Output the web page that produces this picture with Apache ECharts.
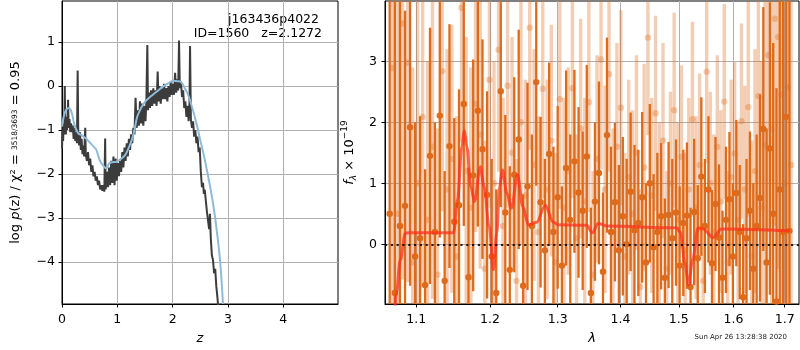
<!DOCTYPE html>
<html>
<head>
<meta charset="utf-8">
<script src="https://cdn.jsdelivr.net/npm/echarts@6/dist/echarts.min.js"></script>
<style>
  html, body { margin: 0; padding: 0; background: #fff; }
  #main { width: 800px; height: 350px; }
</style>
</head>
<body>
<div id="main"></div>
<script>
// p(z) panel: noisy log p(z) and smooth chi2 curve, [z, value]
const pzCurve = [
  [0.000, -1.42], [0.010, -1.00], [0.020, -1.25], [0.030, -0.85], [0.040, -1.10], [0.050, 0.00],
  [0.060, -0.95], [0.070, -1.10], [0.080, -0.70], [0.090, -1.00], [0.100, -0.80], [0.110, -0.31],
  [0.120, -0.95], [0.135, -0.75], [0.150, -1.05], [0.165, -0.85], [0.180, -1.05], [0.195, -0.90],
  [0.210, -1.20], [0.225, -0.95], [0.240, -1.25], [0.255, -1.05], [0.270, -1.30], [0.283, 0.35],
  [0.295, -1.15], [0.310, -1.35], [0.325, -1.05], [0.340, -1.45], [0.355, -1.20], [0.370, -1.55],
  [0.385, -1.35], [0.400, -1.60], [0.420, -0.95], [0.430, -1.55], [0.450, -1.70], [0.470, -1.50],
  [0.490, -1.80], [0.510, -1.65], [0.530, -1.95], [0.550, -1.80], [0.570, -2.05], [0.590, -1.95],
  [0.610, -2.15], [0.630, -2.05], [0.650, -2.25], [0.670, -2.15], [0.690, -2.35], [0.710, -2.25],
  [0.730, -2.38], [0.750, -2.25], [0.765, -2.40], [0.780, -1.19], [0.790, -2.35], [0.810, -1.95],
  [0.830, -2.30], [0.850, -1.85], [0.870, -2.25], [0.890, -1.70], [0.910, -2.20], [0.930, -1.60],
  [0.950, -2.25], [0.970, -1.65], [0.990, -2.15], [1.010, -1.75], [1.030, -2.05], [1.050, -1.70],
  [1.070, -1.95], [1.090, -1.50], [1.110, -1.85], [1.130, -1.40], [1.150, -1.70], [1.170, -1.30],
  [1.190, -1.60], [1.210, -1.20], [1.230, -1.45], [1.250, -1.10], [1.270, -1.30], [1.290, -0.95],
  [1.310, -1.10], [1.330, -0.27], [1.350, -0.95], [1.370, -0.55], [1.390, -0.90], [1.410, -0.35],
  [1.430, -0.85], [1.450, -0.40], [1.470, -0.90], [1.490, -0.45], [1.510, -0.80], [1.525, -0.35],
  [1.543, 0.93], [1.555, -0.55], [1.570, -0.15], [1.590, -0.50], [1.610, -0.10], [1.630, -0.45],
  [1.650, -0.05], [1.670, -0.40], [1.690, -0.10], [1.710, -0.45], [1.730, 0.33], [1.745, -0.35],
  [1.765, 0.00], [1.785, -0.40], [1.805, -0.05], [1.825, -0.30], [1.845, 0.05], [1.865, -0.30],
  [1.885, -0.05], [1.905, -0.35], [1.925, 0.00], [1.945, -0.25], [1.965, 0.10], [1.985, -0.20],
  [2.005, 0.05], [2.025, -0.20], [2.045, 0.30], [2.065, -0.15], [2.085, 0.15], [2.100, -0.10],
  [2.116, 1.03], [2.130, -0.05], [2.150, 0.10], [2.170, -0.25], [2.190, -0.10], [2.210, -0.50],
  [2.230, -0.35], [2.250, -0.70], [2.270, -0.45], [2.290, -0.80], [2.305, -0.40], [2.315, 0.91],
  [2.330, -0.75], [2.350, -0.95], [2.370, -0.80], [2.390, -1.15], [2.410, -1.00], [2.430, -1.30],
  [2.450, -1.15], [2.470, -1.50], [2.490, -1.40], [2.510, -1.95], [2.530, -2.30], [2.550, -2.20],
  [2.565, -2.45], [2.580, -2.35], [2.600, -2.60], [2.620, -2.85], [2.640, -3.05], [2.660, -3.25],
  [2.675, -2.90], [2.690, -3.45], [2.710, -3.85], [2.730, -3.95], [2.750, -4.25], [2.770, -4.15],
  [2.790, -4.55], [2.810, -4.80], [2.830, -5.10]
];
const pzSmooth = [
  [0.00, -0.92], [0.03, -0.70], [0.07, -0.55], [0.12, -0.50], [0.17, -0.58], [0.22, -0.85],
  [0.29, -1.07], [0.36, -1.12], [0.44, -1.20], [0.50, -1.28], [0.56, -1.36], [0.62, -1.45],
  [0.68, -1.68], [0.74, -1.80], [0.80, -1.87], [0.85, -1.76], [0.90, -1.73], [0.98, -1.72],
  [1.06, -1.66], [1.14, -1.57], [1.20, -1.42], [1.26, -1.23], [1.31, -1.00], [1.36, -0.70],
  [1.43, -0.50], [1.50, -0.36], [1.60, -0.24], [1.71, -0.13], [1.82, -0.02], [1.92, 0.06],
  [2.01, 0.12], [2.09, 0.11], [2.16, 0.08], [2.22, -0.05], [2.28, -0.20], [2.34, -0.43],
  [2.40, -0.70], [2.45, -0.95], [2.50, -1.23], [2.56, -1.55], [2.62, -1.91], [2.68, -2.30],
  [2.74, -2.74], [2.80, -3.30], [2.86, -4.00], [2.91, -4.95]
];
const zTicks = [0, 1, 2, 3, 4];
const pzTicks = [-4, -3, -2, -1, 0, 1];

// spectrum panel (wavelength in micron, flux in 1e-19)
const lamTicks = [1.1, 1.2, 1.3, 1.4, 1.5, 1.6, 1.7];
const fluxTicks = [0, 1, 2, 3];
const darkStart = 1.066, darkStep = 0.0065;
const darkFlux = [
  0.5, -0.8, 0.3, 0.63, 1.92, -0.2, 0.1, -0.67, 1.45, 0.2,
  2.11, -0.6, 1.61, 0.37, 0.64, 2.30, -0.54, 1.13, 2.19, 1.56,
  0.81, -0.2, -0.80, 2.51, 0.52, -0.42, 1.14, 1.72, -0.68, 0.95,
  0.3, 2.66, 0.69, -0.1, 1.48, 0.2, 0.77, -0.35, 1.25, 0.4,
  1.36, 0.85, 0.55, 1.44, -0.80, 0.70, 1.17, -0.45, 1.79, 0.2,
  0.69, -0.1, 0.46, 0.0, 0.86, 0.23, 0.35, 0.77, -0.3, 1.0,
  -0.05, 0.2, 0.46, -0.55, 0.48, 0.1, 0.52, -0.35, 0.35, 0.47,
  -0.70, 0.53, -0.23, 1.11, 0.3, 0.9, -0.31, 0.66, 0.11, -0.55,
  0.4, 0.74, -0.2, 0.84, 0.2, -0.87, 0.1, 0.55, -0.4, 0.3,
  0.76, 1.89, -0.3, 1.57, 0.5, -0.94, 0.9, 0.2, 2.09, 0.22
];
const darkErr = [
  6.0, 5.0, 4.2, 3.2, 2.6, 2.2, 2.0, 1.9, 2.1, 1.8,
  2.0, 1.8, 2.0, 1.7, 1.9, 2.0, 1.8, 1.9, 1.9, 1.8,
  1.7, 1.6, 1.7, 1.9, 1.6, 1.7, 1.6, 1.8, 1.5, 1.7,
  1.5, 1.7, 1.4, 1.5, 1.5, 1.4, 1.5, 1.3, 1.6, 1.4,
  1.5, 1.4, 1.3, 1.5, 1.4, 1.3, 1.5, 1.3, 1.6, 1.4,
  1.3, 1.4, 1.3, 1.4, 1.3, 1.4, 1.2, 1.4, 1.3, 1.3,
  1.2, 1.3, 1.2, 1.3, 1.2, 1.3, 1.2, 1.3, 1.2, 1.2,
  1.3, 1.2, 1.2, 1.3, 1.1, 1.2, 1.2, 1.1, 1.2, 1.1,
  1.2, 1.1, 1.2, 1.2, 1.1, 1.2, 1.3, 1.3, 1.4, 1.5,
  1.7, 2.0, 2.2, 2.4, 2.8, 3.5, 4.5, 5.5, 6.0, 6.5
];
const lightStart = 1.0693, lightStep = 0.0065;
const lightFlux = [
  2.89, 0.5, 3.62, 2.98, -0.3, 1.0, 2.09, 0.4, 1.6, -0.5,
  2.84, 0.9, 1.4, -0.2, 3.88, 1.2, 0.6, 2.3, 1.8, -0.4,
  2.7, 1.0, 3.19, 0.3, 2.6, 1.5, -0.6, 2.0, 0.8, 3.55,
  1.3, 0.2, 2.55, 0.9, 1.7, -0.3, 2.38, 0.6, 1.2, 2.56,
  0.1, 1.9, 0.7, 2.33, -0.5, 1.4, 3.03, 0.9, 2.79, 0.2,
  1.6, 2.24, -0.2, 1.1, 0.5, 1.5, -0.7, 1.26, 3.39, 0.8,
  2.15, 0.3, 1.7, -0.4, 1.0, 2.2, 0.4, 1.43, -0.1, 0.9,
  2.05, 0.6, 1.3, -0.6, 2.83, 1.0, 0.2, 1.6, 0.7, 2.34,
  -0.3, 1.1, 1.49, 0.4, 2.02, 0.9, 2.25, -0.2, 1.2, 2.43,
  0.6, 1.62, 3.1, 1.88, 3.7, 3.4, 2.45, 1.0, 2.57, 1.3
];
const lightErr = [
  6.0, 5.0, 4.2, 3.6, 3.2, 3.0, 2.8, 2.6, 2.5, 2.4,
  2.3, 2.3, 2.2, 2.3, 2.2, 2.2, 2.3, 2.1, 2.2, 2.1,
  2.1, 2.0, 2.0, 2.1, 2.0, 1.9, 2.0, 2.0, 1.9, 2.0,
  1.9, 1.9, 1.8, 1.8, 1.9, 1.8, 1.8, 1.8, 1.7, 1.8,
  1.7, 1.8, 1.7, 1.8, 1.7, 1.7, 1.8, 1.7, 1.6, 1.7,
  1.7, 1.6, 1.7, 1.6, 1.7, 1.6, 1.6, 1.7, 1.6, 1.6,
  1.6, 1.7, 1.6, 1.6, 1.5, 1.6, 1.6, 1.5, 1.6, 1.5,
  1.6, 1.5, 1.5, 1.6, 1.5, 1.5, 1.6, 1.5, 1.5, 1.6,
  1.5, 1.6, 1.5, 1.6, 1.6, 1.7, 1.8, 1.9, 2.0, 2.2,
  2.4, 2.6, 2.9, 3.1, 3.4, 3.8, 4.3, 5.0, 5.8, 6.5
];
// best-fit model, [lambda, flux]
const modelCurve = [
  [1.0728, -1.05], [1.0744, -0.80], [1.0794, -0.26], [1.0858, 0.18], [1.0900, 0.19], [1.1495, 0.19],
  [1.1549, 0.73], [1.1609, 1.60], [1.1641, 1.87], [1.1678, 1.60], [1.1733, 0.94], [1.1783, 0.70],
  [1.1863, 1.27], [1.1919, 0.94], [1.1989, 0.29], [1.2050, -0.42], [1.2099, 0.19], [1.2136, 0.94],
  [1.2179, 1.22], [1.2242, 0.84], [1.2309, 0.59], [1.2396, 1.14], [1.2475, 0.62], [1.2558, 0.32],
  [1.2683, 0.36], [1.2808, 0.64], [1.2934, 0.36], [1.3011, 0.32], [1.3454, 0.31], [1.3543, 0.19],
  [1.3639, 0.34], [1.3775, 0.30], [1.4961, 0.27], [1.5032, 0.19], [1.5108, -0.31], [1.5174, -0.67],
  [1.5246, -0.26], [1.5347, 0.27], [1.5438, 0.25], [1.5621, 0.11], [1.5776, 0.25], [1.7101, 0.22]
];

const LAM_MIN = 1.0601, LAM_MAX = 1.7289;
const F_MIN = -0.98, F_MAX = 3.99;
const FONT = 'DejaVu Sans';
const DARK = '#dd6b1b';
const LIGHT = 'rgba(221,107,27,0.33)';

const minus = v => (v < 0 ? '\u2212' + Math.abs(v) : '' + v);

function specData(start, step, flux, err) {
  return flux.map((f, i) => [Math.log(start + i * step), f, err[i]]);
}

function errBar(color, width) {
  return function (params, api) {
    const x = api.value(0), y = api.value(1), e = api.value(2);
    const lo = Math.max(y - e, F_MIN), hi = Math.min(y + e, F_MAX);
    const p0 = api.coord([x, lo]), p1 = api.coord([x, hi]);
    const kids = [{
      type: 'line',
      shape: { x1: p0[0], y1: p0[1], x2: p1[0], y2: p1[1] },
      style: { stroke: color, lineWidth: width }
    }];
    if (y > F_MIN && y < F_MAX) {
      const c = api.coord([x, y]);
      kids.push({ type: 'circle', shape: { cx: c[0], cy: c[1], r: 3.2 }, style: { fill: color } });
    }
    return { type: 'group', children: kids };
  };
}

const axisBase = {
  axisLine: { show: true, onZero: false, lineStyle: { color: '#000', width: 1 } },
  axisTick: { show: true, length: 3.5, lineStyle: { color: '#000', width: 1 } },
  axisLabel: { color: '#000', fontFamily: FONT, fontSize: 12.5 },
  splitLine: { show: true, lineStyle: { color: '#b0b0b0', width: 1 } }
};

function axis(extra, ticks, fmt, labelMargin) {
  return Object.assign({}, axisBase, extra, {
    axisTick: Object.assign({}, axisBase.axisTick, { customValues: ticks }),
    axisLabel: Object.assign({}, axisBase.axisLabel, { customValues: ticks, formatter: fmt, margin: labelMargin })
  });
}

const lamTickVals = lamTicks.map(Math.log);
const textFont = '12.5px "DejaVu Sans"';

const option = {
  animation: false,
  backgroundColor: '#fff',
  grid: [
    { left: 62, right: 462, top: 1, bottom: 46, show: true, borderColor: '#000', borderWidth: 1, backgroundColor: 'transparent', outerBoundsMode: 'none' },
    { left: 385, right: 1, top: 1, bottom: 46, show: true, borderColor: '#000', borderWidth: 1, backgroundColor: 'transparent', outerBoundsMode: 'none' }
  ],
  xAxis: [
    axis({
      type: 'value', gridIndex: 0, min: 0, max: 4.99,
      name: 'z', nameLocation: 'middle', nameGap: 28,
      nameTextStyle: { fontFamily: FONT, fontSize: 13, fontStyle: 'italic', color: '#000' }
    }, zTicks, minus, 9),
    axis({
      type: 'value', gridIndex: 1, min: Math.log(LAM_MIN), max: Math.log(LAM_MAX),
      name: 'λ', nameLocation: 'middle', nameGap: 28,
      nameTextStyle: { fontFamily: FONT, fontSize: 13, fontStyle: 'italic', color: '#000' }
    }, lamTickVals, v => Math.exp(v).toFixed(1), 9)
  ],
  yAxis: [
    axis({
      type: 'value', gridIndex: 0, min: -4.95, max: 1.93,
      name: 'log {i|p}(z) / χ² = {fr|3518/3693} = 0.95', nameLocation: 'middle', nameGap: 40,
      nameTextStyle: {
        fontFamily: FONT, fontSize: 13, color: '#000',
        rich: {
          i: { fontFamily: FONT, fontSize: 13, fontStyle: 'italic', color: '#000' },
          fr: { fontFamily: FONT, fontSize: 7.5, color: '#000' }
        }
      }
    }, pzTicks, minus, 7),
    axis({
      type: 'value', gridIndex: 1, min: F_MIN, max: F_MAX,
      name: '{i|f}{sub|λ} × 10{sup|−19}', nameLocation: 'middle', nameGap: 24,
      nameTextStyle: {
        fontFamily: FONT, fontSize: 13, color: '#000',
        rich: {
          i: { fontFamily: FONT, fontSize: 13, fontStyle: 'italic', color: '#000', lineHeight: 18 },
          sub: { fontFamily: FONT, fontSize: 9, fontStyle: 'italic', color: '#000', verticalAlign: 'bottom', lineHeight: 18 },
          sup: { fontFamily: FONT, fontSize: 9, color: '#000', verticalAlign: 'top', lineHeight: 18 }
        }
      }
    }, fluxTicks, minus, 8)
  ],
  graphic: [
    {
      type: 'text', right: 481, top: 13,
      style: { text: 'j163436p4022', fill: '#000', font: textFont }
    },
    {
      type: 'text', right: 478, top: 27.5,
      style: { text: 'ID=1560   z=2.1272', fill: '#000', font: textFont }
    },
    {
      type: 'text', right: 13, top: 334,
      style: { text: 'Sun Apr 26 13:28:38 2020', fill: '#222', font: '7px "DejaVu Sans"' }
    }
  ],
  series: [
    {
      type: 'line', xAxisIndex: 0, yAxisIndex: 0, data: pzCurve,
      showSymbol: false, symbol: 'none',
      lineStyle: { color: '#3c3c3c', width: 2 }, z: 2
    },
    {
      type: 'line', xAxisIndex: 0, yAxisIndex: 0, data: pzSmooth,
      showSymbol: false, symbol: 'none', smooth: 0.4,
      lineStyle: { color: '#8fbbd9', width: 2 }, z: 3
    },
    {
      type: 'custom', xAxisIndex: 1, yAxisIndex: 1,
      data: specData(lightStart, lightStep, lightFlux, lightErr),
      renderItem: errBar(LIGHT, 3.4), z: 2
    },
    {
      type: 'custom', xAxisIndex: 1, yAxisIndex: 1,
      data: specData(darkStart, darkStep, darkFlux, darkErr),
      renderItem: errBar(DARK, 2.3), z: 3
    },
    {
      type: 'line', xAxisIndex: 1, yAxisIndex: 1,
      data: modelCurve.map(p => [Math.log(p[0]), p[1]]),
      showSymbol: false, symbol: 'none', smooth: 0.35, smoothMonotone: 'x',
      lineStyle: { color: 'rgba(255,45,25,0.72)', width: 3 }, z: 4,
      markLine: {
        silent: true, symbol: ['none', 'none'], label: { show: false },
        lineStyle: { color: '#000', width: 1.8, type: [2.2, 3.6], opacity: 0.85 },
        data: [{ yAxis: 0 }]
      }
    }
  ]
};

const chart = echarts.init(document.getElementById('main'));
chart.setOption(option);
</script>
</body>
</html>
